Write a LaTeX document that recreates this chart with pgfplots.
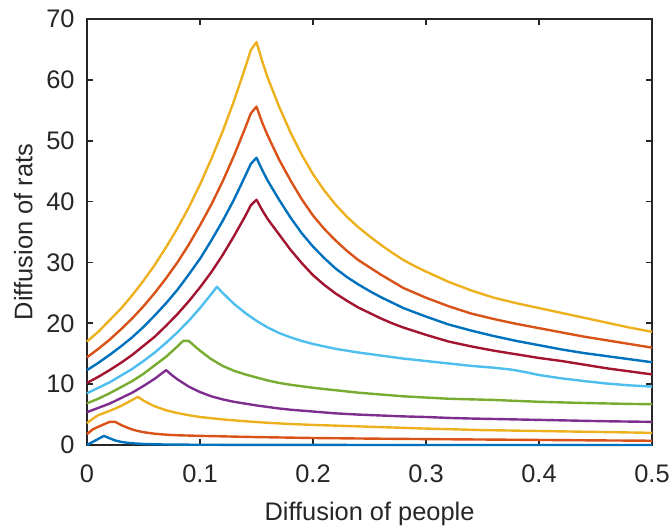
\documentclass[border=0pt]{standalone}
\usepackage{fontspec}
\setmainfont{Liberation Sans}
\usepackage{pgfplots}
\pgfplotsset{compat=1.18}

\definecolor{c1}{RGB}{0,114,189}
\definecolor{c2}{RGB}{217,83,25}
\definecolor{c3}{RGB}{237,177,32}
\definecolor{c4}{RGB}{126,47,142}
\definecolor{c5}{RGB}{119,172,48}
\definecolor{c6}{RGB}{77,190,238}
\definecolor{c7}{RGB}{162,20,47}
\definecolor{axgray}{RGB}{38,38,38}

\begin{document}
\fontsize{12.7}{15}\selectfont
\begin{tikzpicture}
\begin{axis}[
  name=ax,
  width=282.5pt, height=213pt, scale only axis,
  xmin=0, xmax=0.5, ymin=0, ymax=70,
  xtick={0,0.1,0.2,0.3,0.4,0.5},
  ytick={0,10,20,30,40,50,60,70},
  tick align=inside,
  major tick length=3pt,
  axis line style={axgray, line width=0.9pt},
  major tick style={axgray, line width=0.9pt},
  /pgf/number format/assume math mode=true,
  ticklabel style={text=axgray, font=\fontsize{12.7}{15}\selectfont},
  xticklabel style={inner sep=0pt, anchor=north, yshift=-9.5pt},
  yticklabel style={inner sep=0pt, anchor=east, xshift=-6pt},
  xlabel={Diffusion of people},
  ylabel={Diffusion of rats},
  label style={text=axgray, font=\fontsize{12.7}{15}\selectfont},
  xlabel style={at={(axis description cs:0.5,-0.133)}, anchor=north, inner sep=0pt},
  ylabel style={at={(axis description cs:-0.0956,0.5)}, anchor=south, inner sep=0pt},
  clip=false,
  every axis plot/.append style={line width=1.2pt, line join=round},
]
% 1
\addplot[c1] coordinates {(0,0) (0.005,0.5) (0.01,1.0) (0.015,1.5) (0.02,1.1) (0.025,0.75) (0.03,0.52) (0.035,0.38) (0.04,0.28) (0.05,0.17) (0.06,0.11) (0.07,0.08) (0.08,0.06) (0.1,0.04) (0.15,0.02) (0.2,0.01) (0.3,0.005) (0.5,0)};
% 2
\addplot[c2] coordinates {(0,1.8) (0.005,2.55) (0.01,3.0) (0.015,3.4) (0.02,3.8) (0.025,3.8) (0.03,3.3) (0.035,2.9) (0.04,2.55) (0.045,2.3) (0.05,2.1) (0.06,1.85) (0.07,1.7) (0.08,1.6) (0.1,1.5) (0.13,1.38) (0.15,1.3) (0.2,1.15) (0.25,1.05) (0.3,0.97) (0.35,0.9) (0.4,0.83) (0.45,0.76) (0.5,0.7)};
% 3
\addplot[c3] coordinates {(0,3.6) (0.005,4.3) (0.01,4.9) (0.015,5.25) (0.02,5.6) (0.025,6.0) (0.03,6.4) (0.035,6.9) (0.04,7.4) (0.045,7.9) (0.05,7.3) (0.055,6.8) (0.06,6.35) (0.07,5.7) (0.08,5.25) (0.09,4.9) (0.1,4.6) (0.12,4.2) (0.14,3.9) (0.16,3.65) (0.18,3.45) (0.2,3.3) (0.25,3.0) (0.3,2.7) (0.35,2.45) (0.4,2.3) (0.45,2.15) (0.5,2.0)};
% 4
\addplot[c4] coordinates {(0,5.4) (0.01,6.1) (0.02,6.8) (0.03,7.7) (0.04,8.6) (0.05,9.7) (0.06,10.9) (0.07,12.3) (0.075,11.5) (0.08,10.8) (0.09,9.6) (0.1,8.7) (0.11,8.0) (0.12,7.5) (0.13,7.1) (0.14,6.8) (0.15,6.5) (0.16,6.25) (0.17,6.0) (0.18,5.8) (0.2,5.5) (0.22,5.2) (0.24,5.0) (0.26,4.85) (0.28,4.7) (0.3,4.6) (0.32,4.45) (0.34,4.35) (0.38,4.2) (0.42,4.05) (0.46,3.9) (0.5,3.8)};
% 5
\addplot[c5] coordinates {(0,6.85) (0.01,7.6) (0.02,8.5) (0.03,9.5) (0.04,10.5) (0.05,11.7) (0.06,13.1) (0.07,14.5) (0.08,16.2) (0.085,17.1) (0.09,17.1) (0.095,16.3) (0.1,15.5) (0.11,14.1) (0.12,13.0) (0.13,12.2) (0.14,11.6) (0.15,11.1) (0.16,10.6) (0.17,10.2) (0.18,9.9) (0.2,9.4) (0.22,9.0) (0.24,8.6) (0.26,8.3) (0.28,8.0) (0.3,7.8) (0.32,7.6) (0.34,7.5) (0.36,7.4) (0.38,7.25) (0.4,7.1) (0.44,6.9) (0.48,6.75) (0.5,6.7)};
% 6
\addplot[c6] coordinates {(0,8.5) (0.01,9.4) (0.02,10.3) (0.03,11.4) (0.04,12.5) (0.05,13.8) (0.06,15.2) (0.07,16.8) (0.08,18.5) (0.09,20.4) (0.1,22.5) (0.11,24.8) (0.115,26.0) (0.12,25.0) (0.125,24.1) (0.13,23.2) (0.14,21.7) (0.15,20.4) (0.16,19.3) (0.17,18.4) (0.18,17.7) (0.19,17.1) (0.2,16.6) (0.22,15.8) (0.24,15.2) (0.26,14.7) (0.28,14.2) (0.3,13.8) (0.32,13.4) (0.34,13.0) (0.36,12.7) (0.375,12.4) (0.38,12.25) (0.39,11.9) (0.4,11.5) (0.42,10.95) (0.44,10.5) (0.46,10.1) (0.48,9.8) (0.5,9.6)};
% 7
\addplot[c7] coordinates {(0,10.2) (0.01,11.2) (0.02,12.3) (0.03,13.5) (0.04,14.8) (0.05,16.3) (0.06,17.8) (0.07,19.6) (0.08,21.5) (0.09,23.6) (0.1,25.9) (0.11,28.4) (0.12,31.2) (0.13,34.3) (0.14,37.6) (0.145,39.4) (0.15,40.3) (0.155,38.6) (0.16,37.1) (0.17,34.6) (0.18,32.1) (0.19,29.9) (0.2,27.9) (0.21,26.3) (0.22,24.9) (0.23,23.7) (0.24,22.6) (0.25,21.7) (0.26,20.8) (0.27,20.0) (0.28,19.3) (0.29,18.7) (0.3,18.1) (0.32,17.0) (0.34,16.2) (0.36,15.5) (0.38,14.9) (0.4,14.3) (0.42,13.8) (0.44,13.2) (0.46,12.6) (0.48,12.1) (0.5,11.6)};
% 8
\addplot[c1] coordinates {(0,12.3) (0.01,13.5) (0.02,14.8) (0.03,16.2) (0.04,17.7) (0.05,19.4) (0.06,21.3) (0.07,23.3) (0.08,25.5) (0.09,28.0) (0.1,30.6) (0.11,33.6) (0.12,36.8) (0.13,40.3) (0.14,44.2) (0.145,46.2) (0.15,47.2) (0.155,45.2) (0.16,43.4) (0.17,40.3) (0.18,37.4) (0.19,34.8) (0.2,32.6) (0.21,30.7) (0.22,29.0) (0.23,27.6) (0.24,26.4) (0.25,25.3) (0.26,24.3) (0.27,23.4) (0.28,22.5) (0.29,21.8) (0.3,21.1) (0.32,19.8) (0.34,18.8) (0.36,17.9) (0.38,17.1) (0.4,16.4) (0.42,15.7) (0.44,15.1) (0.46,14.6) (0.48,14.1) (0.5,13.6)};
% 9
\addplot[c2] coordinates {(0,14.4) (0.01,15.8) (0.02,17.3) (0.03,19.0) (0.04,20.8) (0.05,22.8) (0.06,25.0) (0.07,27.4) (0.08,30.0) (0.09,32.9) (0.1,36.1) (0.11,39.5) (0.12,43.3) (0.13,47.5) (0.14,52.1) (0.145,54.5) (0.15,55.6) (0.155,53.0) (0.16,50.8) (0.17,46.9) (0.18,43.5) (0.19,40.4) (0.2,37.7) (0.21,35.5) (0.22,33.6) (0.23,31.9) (0.24,30.4) (0.25,29.2) (0.26,28.0) (0.27,26.9) (0.28,25.8) (0.29,25.0) (0.3,24.2) (0.32,22.8) (0.34,21.6) (0.36,20.7) (0.38,19.9) (0.4,19.2) (0.42,18.5) (0.44,17.8) (0.46,17.2) (0.48,16.6) (0.5,16.0)};
% 10
\addplot[c3] coordinates {(0,17.0) (0.01,18.6) (0.02,20.5) (0.03,22.4) (0.04,24.6) (0.05,27.0) (0.06,29.6) (0.07,32.5) (0.08,35.6) (0.09,39.0) (0.1,42.8) (0.11,47.0) (0.12,51.5) (0.13,56.5) (0.14,62.0) (0.145,64.9) (0.15,66.2) (0.155,63.1) (0.16,60.3) (0.17,55.6) (0.18,51.4) (0.19,47.7) (0.2,44.5) (0.21,41.8) (0.22,39.5) (0.23,37.5) (0.24,35.8) (0.25,34.3) (0.26,32.9) (0.27,31.6) (0.28,30.4) (0.29,29.4) (0.3,28.5) (0.32,26.8) (0.34,25.4) (0.36,24.2) (0.38,23.3) (0.4,22.5) (0.42,21.7) (0.44,20.9) (0.46,20.1) (0.48,19.3) (0.5,18.6)};
\end{axis}
\path[use as bounding box] ([shift={(-43.5pt,-41pt)}]ax.south west) rectangle ([shift={(9pt,9.5pt)}]ax.north east);
\end{tikzpicture}
\end{document}
